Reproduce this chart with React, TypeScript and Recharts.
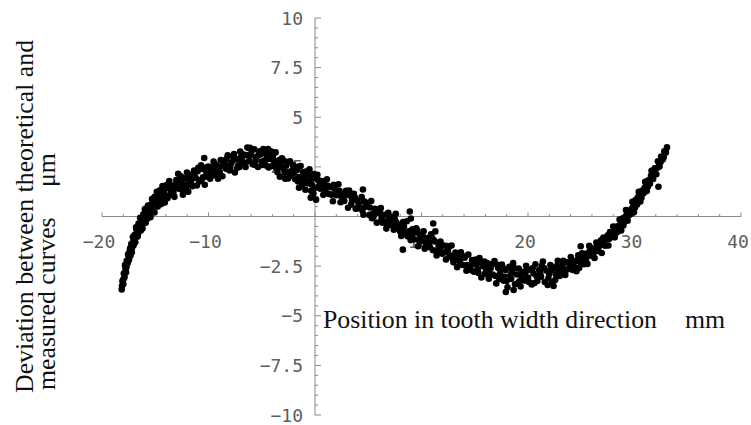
import React from 'react';
import { ScatterChart, Scatter, XAxis, YAxis, ReferenceLine } from 'recharts';

type Pt = [number, number];

const leftArm: Pt[] = [
  [-18.15, -3.68], [-18.08, -3.25], [-18.0, -3.4], [-17.95, -2.87], [-17.88, -3.05], [-17.8, -2.65],
  [-17.74, -2.81], [-17.68, -2.23], [-17.6, -2.35], [-17.55, -1.9], [-17.47, -2.19], [-17.4, -1.75],
  [-17.33, -1.98], [-17.25, -1.39], [-17.18, -1.57], [-17.1, -1.03], [-17.03, -1.45], [-16.95, -0.94],
  [-16.88, -1.3], [-16.8, -0.55], [-16.72, -0.8], [-16.65, -1.01], [-16.57, -0.36], [-16.5, -0.7],
  [-16.42, -0.07], [-16.35, -0.7], [-16.27, -0.22], [-16.2, -0.6], [-16.12, 0.11], [-16.05, -0.24],
  [-15.97, 0.37], [-15.9, -0.32], [-15.82, 0.19], [-15.75, -0.11], [-15.67, 0.55], [-15.6, 0.15],
  [-15.52, 0.51], [-15.45, -0.04], [-15.37, 0.47], [-15.3, 0.88], [-15.22, 0.28], [-15.15, 0.74],
  [-15.07, 0.2], [-15.0, 1.0], [-14.92, 0.65], [-14.85, 1.25], [-14.77, 0.5], [-14.7, 0.99],
  [-14.62, 0.74], [-14.55, 1.32], [-14.47, 0.62], [-14.4, 1.05], [-14.32, 1.54], [-14.25, 0.87],
  [-14.17, 1.36], [-14.1, 0.7],
  [-18.12, -3.5], [-17.98, -3.15], [-17.84, -2.45], [-17.7, -2.55], [-17.5, -2.0], [-17.36, -1.6],
  [-17.2, -1.8], [-17.06, -1.25], [-16.9, -1.15], [-16.76, -0.65], [-16.6, -0.85], [-16.45, -0.4],
  [-16.3, -0.45], [-16.15, -0.05], [-16.0, 0.05], [-15.85, 0.4], [-15.7, 0.3], [-15.55, 0.05],
  [-15.4, 0.6], [-15.26, 0.6], [-15.1, 0.95], [-14.95, 0.85], [-14.8, 1.05], [-14.65, 1.1],
  [-14.5, 0.85], [-14.35, 1.25], [-14.2, 1.2],
];

const crest: Pt[] = [
  [-14.02, 1.41], [-13.9, 1.6], [-13.85, 0.92], [-13.68, 1.79], [-13.52, 1.29], [-13.45, 1.11],
  [-13.35, 1.5], [-13.2, 0.99], [-13.1, 1.62], [-13.02, 1.84], [-12.85, 2.15], [-12.7, 1.39],
  [-12.6, 2.02], [-12.52, 1.69], [-12.35, 1.29], [-12.2, 1.92], [-12.1, 1.49], [-12.02, 2.22],
  [-11.85, 1.65], [-11.7, 1.99], [-11.6, 2.11], [-11.52, 1.53], [-11.35, 2.31], [-11.2, 1.94],
  [-11.1, 1.56], [-11.02, 2.28], [-10.85, 1.76], [-10.7, 2.58], [-10.6, 2.4], [-10.52, 1.97],
  [-10.4, 2.95], [-10.35, 1.6], [-10.2, 2.23], [-10.1, 2.0], [-10.02, 2.52], [-9.85, 1.9],
  [-9.7, 2.48], [-9.6, 2.4], [-9.52, 2.77], [-9.35, 2.25], [-9.2, 2.08], [-9.1, 1.9],
  [-9.02, 2.52], [-8.85, 2.85], [-8.7, 2.03], [-8.6, 2.8], [-8.52, 2.72], [-8.35, 2.4],
  [-8.2, 3.08], [-8.1, 2.55], [-8.02, 2.32], [-7.85, 2.7], [-7.7, 3.03], [-7.6, 3.15],
  [-7.52, 2.22], [-7.35, 2.9], [-7.2, 2.58], [-7.1, 2.5], [-7.02, 3.27], [-6.85, 2.79],
  [-6.7, 3.12], [-6.6, 3.08], [-6.52, 2.5], [-6.35, 3.47], [-6.2, 2.79], [-6.1, 3.46],
  [-6.02, 3.07], [-5.85, 2.63], [-5.7, 3.39], [-5.6, 2.8], [-5.52, 3.0], [-5.35, 2.49],
  [-5.2, 3.28], [-5.1, 3.13], [-5.02, 2.77], [-4.85, 3.4], [-4.7, 2.83], [-4.6, 2.57],
  [-4.52, 3.05], [-4.4, 3.4], [-4.35, 2.47], [-4.2, 3.19], [-4.1, 3.27], [-4.02, 2.55],
  [-3.85, 2.81], [-3.7, 3.23], [-3.6, 2.6], [-3.52, 2.23], [-3.35, 2.84], [-3.2, 2.5],
  [-3.1, 2.93], [-3.02, 2.85], [-2.85, 2.21], [-2.7, 2.57], [-2.6, 2.25], [-2.52, 1.92],
  [-2.35, 2.78], [-2.2, 2.29], [-2.1, 2.61], [-2.02, 2.53], [-1.85, 1.88], [-1.7, 2.34],
  [-1.6, 1.76], [-1.52, 1.99], [-1.35, 2.54], [-1.2, 1.6], [-1.1, 2.23], [-1.02, 2.05],
  [-0.85, 2.26], [-0.7, 1.67], [-0.6, 1.8], [-0.52, 2.38], [-0.35, 1.29], [-0.2, 1.91],
  [-0.1, 2.14],
  [-13.95, 1.05], [-13.6, 1.55], [-13.28, 1.25], [-12.95, 1.45], [-12.65, 1.8], [-12.3, 1.6],
  [-11.95, 1.95], [-11.65, 1.75], [-11.3, 2.05], [-10.95, 2.45], [-10.65, 1.85], [-10.3, 2.45],
  [-9.95, 2.25], [-9.65, 2.05], [-9.3, 2.6], [-8.95, 2.25], [-8.65, 2.55], [-8.3, 2.9],
  [-7.95, 2.45], [-7.65, 2.85], [-7.3, 2.45], [-6.95, 3.0], [-6.65, 2.7], [-6.3, 3.1],
  [-5.95, 3.3], [-5.65, 2.6], [-5.3, 3.1], [-4.95, 2.6], [-4.65, 3.2], [-4.3, 2.9],
  [-3.95, 3.05], [-3.65, 2.45], [-3.3, 2.65], [-2.95, 2.4], [-2.65, 2.75], [-2.3, 2.05],
  [-1.95, 2.2], [-1.65, 2.5], [-1.3, 1.85], [-0.95, 1.8], [-0.65, 2.1], [-0.3, 1.6],
  [-12.4, 1.1], [-11.9, 1.25], [-3.3, 2.0], [-2.8, 1.9], [-1.5, 1.45], [-0.9, 1.35],
  [-0.4, 0.95], [-0.15, 1.15],
];

const descent: Pt[] = [
  [0.05, 1.45], [0.1, 0.85], [0.22, 2.1], [0.3, 1.83], [0.4, 1.55], [0.6, 1.79], [0.78, 1.09],
  [0.95, 1.54], [1.0, 1.27], [1.12, 1.88], [1.3, 1.13], [1.5, 1.47], [1.68, 0.77],
  [1.75, 1.6], [1.85, 1.52], [2.02, 1.07], [2.2, 1.62], [2.4, 0.72], [2.5, 0.99],
  [2.58, 1.12], [2.75, 0.78], [2.92, 1.29], [3.1, 0.44], [3.2, 1.31], [3.3, 1.04],
  [3.48, 0.79], [3.65, 1.14], [3.82, 0.39], [3.95, 0.4], [4.0, 0.79], [4.2, 0.43],
  [4.38, 0.98], [4.5, 1.36], [4.55, 0.09], [4.6, 0.77], [4.72, 0.49], [4.9, 0.69],
  [5.1, 0.08], [5.28, 0.78], [5.35, -0.09], [5.45, 0.13], [5.62, 0.39], [5.8, -0.31],
  [6.0, 0.18], [6.1, 0.2], [6.18, 0.43], [6.35, -0.31], [6.52, 0.09], [6.7, -0.61],
  [6.8, -0.44], [6.88, 0.19], [7.05, -0.27], [7.22, -0.02], [7.4, -0.67], [7.5, -0.15],
  [7.58, 0.13], [7.75, -0.58], [7.92, -0.43], [8.1, -0.98], [8.2, -0.61], [8.25, -1.67],
  [8.28, -0.28], [8.45, -0.84], [8.62, -0.24], [8.8, -0.74], [8.9, 0.25], [8.98, -1.19],
  [9.0, -0.1], [9.15, -0.65], [9.32, -1.15], [9.5, -0.6], [9.6, -0.69], [9.68, -1.5],
  [9.85, -0.94], [10.02, -1.24], [10.2, -0.74], [10.3, -1.62], [10.38, -1.54], [10.55, -1.09],
  [10.72, -1.34], [10.9, -0.9], [11.0, -1.08], [11.08, -1.7], [11.1, -0.35], [11.25, -1.26],
  [11.3, -0.75], [11.42, -1.96], [11.6, -1.51], [11.7, -1.69], [11.78, -1.26], [11.95, -1.87],
  [12.12, -1.46], [12.3, -2.16], [12.4, -1.49], [12.48, -1.71], [12.65, -1.96], [12.82, -1.46],
  [13.0, -2.31], [13.1, -2.19], [13.18, -1.81], [13.35, -2.56], [13.52, -2.05], [13.7, -1.8],
  [13.8, -2.07], [13.88, -2.44], [14.05, -2.08], [14.22, -2.73], [14.4, -1.92], [14.5, -2.65],
  [14.58, -2.46], [14.75, -2.2], [14.92, -2.78], [15.1, -2.17], [15.2, -2.39], [15.28, -2.66],
  [15.45, -2.09], [15.62, -3.07], [15.8, -2.5], [15.9, -2.27], [15.98, -2.88],
  [0.15, 1.95], [0.5, 1.4], [0.85, 1.75], [1.2, 1.55], [1.55, 1.1], [1.9, 1.35],
  [2.3, 1.3], [2.65, 0.95], [3.0, 1.1], [3.4, 0.6], [3.75, 0.95], [4.1, 0.6],
  [4.45, 0.3], [4.8, 0.55], [5.15, 0.45], [5.5, 0.0], [5.9, 0.35], [6.25, -0.1],
  [6.6, -0.25], [6.95, 0.0], [7.3, -0.45], [7.65, -0.3], [8.0, -0.75], [8.35, -0.5],
  [8.7, -1.0], [9.1, -0.9], [9.4, -0.8], [9.75, -1.2], [10.1, -0.95], [10.45, -1.35],
  [10.8, -1.55], [11.15, -1.2], [11.5, -1.75], [11.85, -1.5], [12.2, -1.8], [12.55, -1.55],
  [12.9, -2.1], [13.25, -2.0], [13.6, -2.3], [13.95, -2.0], [14.3, -2.45], [14.65, -2.7],
  [15.0, -2.4], [15.35, -2.85], [15.7, -2.3], [16.05, -2.65],
];

const trough: Pt[] = [
  [16.15, -2.35], [16.32, -3.13], [16.4, -2.64], [16.5, -2.6], [16.68, -2.92], [16.85, -2.25],
  [17.02, -3.37], [17.1, -2.43], [17.2, -2.59], [17.38, -2.86], [17.55, -2.42], [17.72, -3.24],
  [17.8, -3.04], [17.9, -2.7], [17.92, -3.8], [18.08, -3.57], [18.25, -2.53], [18.42, -3.14],
  [18.5, -2.8], [18.6, -2.35], [18.65, -3.7], [18.78, -3.41], [18.95, -2.92], [19.12, -2.62],
  [19.2, -3.27], [19.3, -3.53], [19.48, -2.78], [19.65, -3.23], [19.82, -2.48], [19.9, -2.68],
  [20.0, -3.08], [20.18, -2.68], [20.35, -3.42], [20.52, -2.87], [20.6, -3.35], [20.7, -2.41],
  [20.88, -3.25], [21.05, -2.7], [21.22, -3.03], [21.3, -2.48], [21.4, -2.27], [21.58, -3.3],
  [21.75, -2.73], [21.92, -3.11], [22.0, -2.9], [22.1, -2.44], [22.28, -3.31], [22.4, -3.5],
  [22.45, -2.59], [22.62, -2.91], [22.7, -2.5], [22.8, -2.23], [22.98, -3.0], [23.15, -2.57],
  [23.32, -2.23], [23.4, -2.77], [23.5, -2.95], [23.68, -2.31], [23.85, -2.62], [24.02, -2.04],
  [24.1, -2.32], [24.2, -2.69], [24.38, -2.25], [24.55, -2.76], [24.72, -1.96], [24.8, -2.59],
  [24.9, -2.31], [24.95, -1.5],
  [16.25, -2.85], [16.6, -2.4], [16.95, -3.0], [17.3, -3.15], [17.65, -2.6], [18.0, -3.25],
  [18.35, -2.95], [18.7, -2.6], [19.05, -3.35], [19.4, -3.05], [19.75, -2.85], [20.1, -3.3],
  [20.45, -2.6], [20.8, -3.0], [21.15, -2.85], [21.5, -2.6], [21.85, -3.45], [22.2, -2.7],
  [22.55, -3.2], [22.9, -2.75], [23.25, -2.45], [23.6, -2.7], [23.95, -2.4], [24.3, -2.5],
  [24.65, -2.2],
];

const upturn: Pt[] = [
  [25.08, -1.85], [25.25, -2.4], [25.4, -1.95], [25.5, -1.87], [25.58, -2.39], [25.75, -1.48],
  [25.9, -1.98], [26.08, -1.61], [26.25, -2.09], [26.3, -1.61], [26.42, -1.31], [26.6, -1.74],
  [26.75, -1.47], [26.92, -1.84], [27.0, -1.35], [27.08, -1.06], [27.25, -1.47], [27.4, -1.09],
  [27.55, -1.46], [27.6, -1.13], [27.7, -0.78], [27.85, -1.04], [28.0, -0.5], [28.15, -1.05],
  [28.2, -0.52], [28.3, -0.6], [28.45, -0.75], [28.6, -0.15], [28.75, -0.7], [28.8, -0.26],
  [28.9, -0.09], [29.05, -0.28], [29.2, 0.33], [29.3, 0.15], [29.35, -0.21], [29.5, 0.3],
  [29.65, 0.12], [29.8, 0.74], [29.9, 0.57], [29.95, 0.21], [30.1, 0.83], [30.25, 0.61],
  [30.4, 1.24], [30.5, 1.07], [30.55, 0.76], [30.7, 1.29], [30.85, 1.17], [31.0, 1.75],
  [31.1, 1.59], [31.15, 1.28], [31.3, 1.82], [31.45, 1.65], [31.6, 2.3], [31.65, 1.95],
  [31.75, 1.89], [31.9, 2.43], [32.05, 2.13], [32.2, 2.78], [32.25, 1.5], [32.3, 2.72],
  [32.35, 2.52], [32.5, 3.02], [32.65, 2.87], [32.8, 3.28], [32.95, 3.23], [33.05, 3.48],
  [25.15, -2.15], [25.45, -2.2], [25.8, -1.75], [26.15, -1.85], [26.5, -1.55], [26.85, -1.2],
  [27.15, -1.3], [27.5, -0.95], [27.9, -0.8], [28.25, -0.85], [28.55, -0.45], [28.95, -0.45],
  [29.15, 0.0], [29.45, 0.05], [29.75, 0.4], [30.05, 0.45], [30.3, 0.95], [30.65, 0.95],
  [30.95, 1.45], [31.25, 1.5], [31.55, 2.05], [31.85, 2.2], [32.15, 2.45], [32.45, 2.75],
  [32.75, 3.0],
];

const xDomain: [number, number] = [-20, 40];
const yDomain: [number, number] = [-10, 10];
const xTickValues = [-20, -10, 10, 20, 30, 40];
const xTickLabels = ['\u221220', '\u221210', '10', '20', '30', '40'];
const yTickValues = [10, 7.5, 5, 2.5, -2.5, -5, -7.5, -10];
const yTickLabels = ['10', '7.5', '5', '2.5', '\u22122.5', '\u22125', '\u22127.5', '\u221210'];

const points = [...leftArm, ...crest, ...descent, ...trough, ...upturn].map(([x, y]) => ({ x, y }));

const AXIS = '#8a8a8a';
const TICK_TEXT = '#5e5e5e';
const tickFont = { fontFamily: '"DejaVu Sans Mono", monospace', fontSize: 18 };

const steps = (from: number, to: number, step: number) => {
  const out: number[] = [];
  for (let v = from; v <= to + 1e-9; v += step) out.push(Math.round(v * 10) / 10);
  return out;
};
const xMinor = steps(-20, 40, 2);
const yMinor = steps(-10, 10, 0.5);

// x axis drawn along y = 0, ticks point up
const HorizontalAxis = (props: any) => {
  const left = Math.min(props.x1, props.x2);
  const right = Math.max(props.x1, props.x2);
  const y0 = props.y1;
  const sx = (v: number) => left + ((v - xDomain[0]) / (xDomain[1] - xDomain[0])) * (right - left);
  return (
    <g>
      <line x1={left} x2={right} y1={y0} y2={y0} stroke={AXIS} strokeWidth={1} />
      {xMinor.map((v) => (
        <line key={v} x1={sx(v)} x2={sx(v)} y1={y0} y2={y0 - (v % 10 === 0 ? 4 : 2.5)} stroke={AXIS} />
      ))}
      {xTickValues.map((v, i) => (
        <text key={v} x={sx(v) - 3} y={y0 + 31} textAnchor="middle" fill={TICK_TEXT} {...tickFont}>
          {xTickLabels[i]}
        </text>
      ))}
    </g>
  );
};

// y axis drawn along x = 0, ticks point right
const VerticalAxis = (props: any) => {
  const top = Math.min(props.y1, props.y2);
  const bottom = Math.max(props.y1, props.y2);
  const x0 = props.x1;
  const sy = (v: number) => bottom - ((v - yDomain[0]) / (yDomain[1] - yDomain[0])) * (bottom - top);
  return (
    <g>
      <line x1={x0} x2={x0} y1={top} y2={bottom} stroke={AXIS} strokeWidth={1} />
      {yMinor.map((v) => (
        <line key={v} x1={x0} x2={x0 + (v % 2.5 === 0 ? 6 : 3)} y1={sy(v)} y2={sy(v)} stroke={AXIS} />
      ))}
      {yTickValues.map((v, i) => (
        <text key={v} x={x0 - 12} y={sy(v) + 6.5} textAnchor="end" fill={TICK_TEXT} {...tickFont}>
          {yTickLabels[i]}
        </text>
      ))}
    </g>
  );
};

const Dot = (props: any) => <circle cx={props.cx} cy={props.cy} r={3.3} fill="#000" />;

// body margin is dropped and replaced by padding so the root spans the whole window
const W = 743;
const H = 417;
const titleFont = { fontFamily: '"Liberation Serif", "Times New Roman", serif', fontSize: 25.8, fill: '#111' };

export default function App() {
  return (
    <div style={{ width: 751, height: 425, paddingLeft: 8, paddingTop: 8, boxSizing: 'border-box' }}>
      <style>{'body { margin: 0; }'}</style>
      <div style={{ position: 'relative', width: W, height: H }}>
        <ScatterChart width={W} height={H} margin={{ top: 10, right: 10, bottom: 10, left: 94 }}>
          <XAxis type="number" dataKey="x" domain={xDomain} allowDataOverflow hide />
          <YAxis type="number" dataKey="y" domain={yDomain} allowDataOverflow hide />
          <ReferenceLine y={0} shape={HorizontalAxis} />
          <ReferenceLine x={0} shape={VerticalAxis} />
          <Scatter data={points} shape={Dot} isAnimationActive={false} />
        </ScatterChart>
        <svg
          width={W}
          height={H}
          style={{ position: 'absolute', left: 0, top: 0, pointerEvents: 'none' }}
        >
          <text x={25} y={385} transform="rotate(-90 25 385)" {...titleFont}>
            Deviation between theoretical and
          </text>
          <text x={47} y={382} transform="rotate(-90 47 382)" {...titleFont}>
            measured curves
          </text>
          <text x={47} y={179} transform="rotate(-90 47 179)" {...titleFont}>
            μm
          </text>
          <text x={315} y={320} {...titleFont}>
            Position in tooth width direction
          </text>
          <text x={677} y={320} {...titleFont}>
            mm
          </text>
        </svg>
      </div>
    </div>
  );
}
